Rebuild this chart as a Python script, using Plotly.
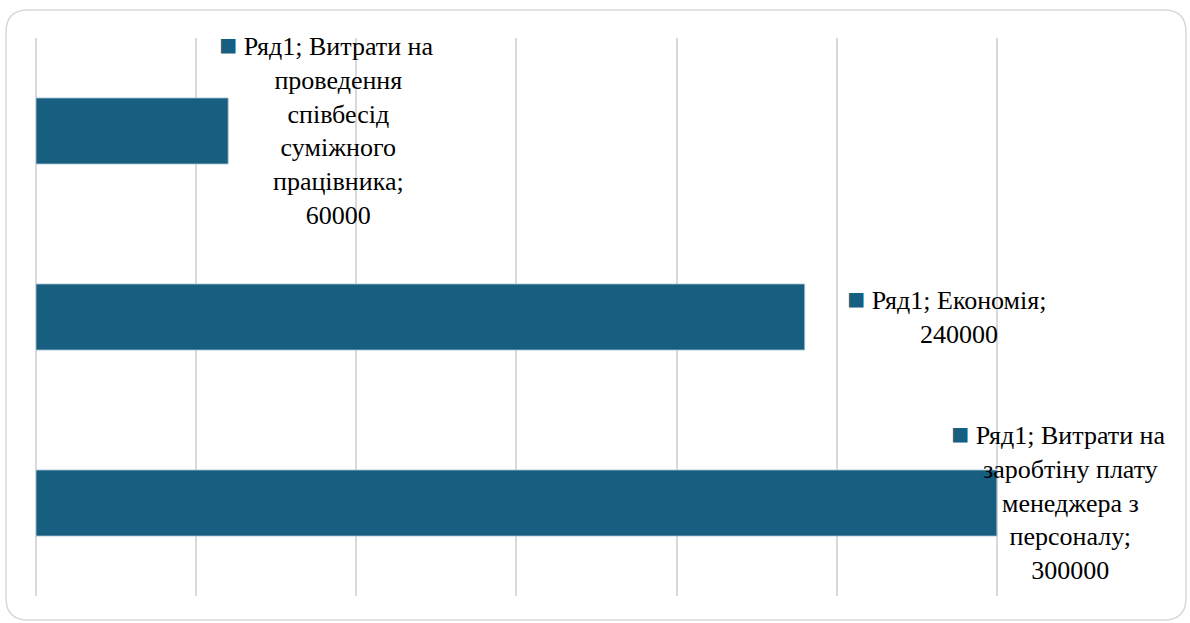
import plotly.graph_objects as go

# Data
categories = [
    "Витрати на заробтіну плату менеджера з персоналу",
    "Економія",
    "Витрати на проведення співбесід суміжного працівника",
]
values = [300000, 240000, 60000]
series_name = "Ряд1"
label_lines = [
    ["Витрати на", "заробтіну плату", "менеджера з", "персоналу;"],
    ["Економія;"],
    ["Витрати на", "проведення", "співбесід", "суміжного", "працівника;"],
]

bar_color = "#175F80"
grid_color = "#D9D9D9"
font_family = "Times New Roman, Liberation Serif, serif"

# per-label pixel offsets of the text centre from the bar end
label_shift = [74, 154, 110]

W, H = 1190, 623
ml, mr, mt, mb = 36, 33, 38, 27

fig = go.Figure()
fig.add_trace(go.Bar(
    x=values,
    y=categories,
    orientation="h",
    marker=dict(color=bar_color, line=dict(color="#A9C4D3", width=0.8)),
    width=0.355,
    hoverinfo="x+y",
))

marker_html = "<span style='color:%s;font-size:30px'>■</span>" % bar_color
ghost_html = "<span style='color:rgba(0,0,0,0);font-size:30px'>■</span>"

for cat, val, lines, dx in zip(categories, values, label_lines, label_shift):
    first_line = "%s; %s" % (series_name, lines[0])
    rest = lines[1:]
    text_lines = [marker_html + "\u00a0" + first_line + "\u00a0" + ghost_html] + rest + [f"{val}"]
    fig.add_annotation(
        x=val, y=cat, xref="x", yref="y",
        text="<br>".join(text_lines),
        showarrow=False,
        xanchor="center", yanchor="middle",
        align="center",
        xshift=dx, yshift=2,
        font=dict(family=font_family, size=26, color="#000000"),
    )

# rounded chart border
pw = W - ml - mr
ph = H - mt - mb
x0 = (6 - ml) / pw
x1 = (1186 - ml) / pw
y1 = (H - mb - 10) / ph
y0 = (H - mb - 620) / ph
rx = 22 / pw
ry = 22 / ph
path = (
    f"M {x0 + rx},{y1} L {x1 - rx},{y1} Q {x1},{y1} {x1},{y1 - ry} "
    f"L {x1},{y0 + ry} Q {x1},{y0} {x1 - rx},{y0} "
    f"L {x0 + rx},{y0} Q {x0},{y0} {x0},{y0 + ry} "
    f"L {x0},{y1 - ry} Q {x0},{y1} {x0 + rx},{y1} Z"
)
fig.add_shape(type="path", path=path, xref="paper", yref="paper",
              line=dict(color="#D9D9D9", width=1.5), layer="below")

fig.update_layout(
    width=W, height=H,
    margin=dict(l=ml, r=mr, t=mt, b=mb),
    paper_bgcolor="white",
    plot_bgcolor="white",
    showlegend=False,
    xaxis=dict(
        range=[0, 350000],
        dtick=50000,
        showgrid=True,
        gridcolor=grid_color,
        gridwidth=1.5,
        showticklabels=False,
        zeroline=True,
        zerolinecolor=grid_color,
        zerolinewidth=1.5,
        showline=False,
        ticks="",
        fixedrange=True,
    ),
    yaxis=dict(
        range=[-0.5, 2.5],
        showticklabels=False,
        showgrid=False,
        zeroline=False,
        showline=False,
        ticks="",
        fixedrange=True,
    ),
    font=dict(family=font_family),
)

fig.write_html("out.html", config={"displayModeBar": False},
               post_script="document.body.style.margin='0';")
